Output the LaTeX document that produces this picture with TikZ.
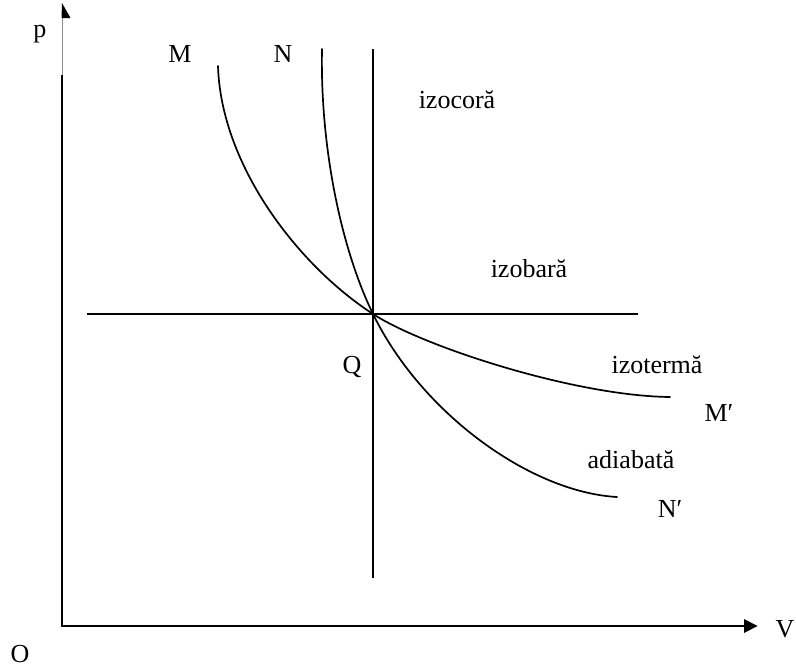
\documentclass[tikz,border=0pt]{standalone}
\usepackage{fontspec}
\setmainfont{Liberation Serif}
\begin{document}
\begin{tikzpicture}[x=1pt,y=-1pt,
  lbl/.style={anchor=base,inner sep=0pt,font=\fontsize{26}{30}\selectfont},
  curve/.style={line width=1.7pt,line cap=round},
  guide/.style={line width=1.6pt},
  axis/.style={line width=2.6pt}]
\useasboundingbox (0,0) rectangle (796,667);
% axes
\coordinate (O) at (62,626);
\coordinate (Ytop) at (62,75);
\coordinate (Ythin) at (62,16);
\coordinate (Xend) at (745,626);
\draw[axis] (Ytop) -- (O) -- (Xend);
\draw[line width=0.9pt,black!45] (Ytop) -- (Ythin);
\fill (62,3) -- (70.5,18) -- (61.5,18) -- cycle;
\fill (744,619) -- (757.5,626) -- (744,633) -- cycle;
% guides
\coordinate (Q) at (373,314);
\coordinate (H1) at (87,314);
\coordinate (H2) at (638,314);
\coordinate (V1) at (373,49);
\coordinate (V2) at (373,578);
\draw[guide] (H1) -- (H2);
\draw[guide] (V1) -- (V2);
% curve end points
\coordinate (Mc) at (218,66);
\coordinate (Mpc) at (670,397);
\coordinate (Nc) at (322,49);
\coordinate (Npc) at (617,497);
% isotherm
\draw[curve] (Mc) .. controls (221,165) and (297.5,265) .. (Q)
                  .. controls (423.3,346.7) and (575,396) .. (Mpc);
% adiabat
\draw[curve] (Nc) .. controls (320,150) and (342.2,251) .. (Q)
                  .. controls (421.4,413) and (530,492) .. (Npc);
% labels
\node[lbl] (p) at (40,37) {p};
\node[lbl] (M) at (180,62) {M};
\node[lbl] (N) at (283,62) {N};
\node[lbl] (izocora) at (457,108) {izocoră};
\node[lbl] (izobara) at (529,277) {izobară};
\node[lbl] (Qlbl) at (352,373) {Q};
\node[lbl] (izoterma) at (657,373) {izotermă};
\node[lbl] (Mp) at (719,421) {M′};
\node[lbl] (adiabata) at (631,468) {adiabată};
\node[lbl] (Np) at (670,517) {N′};
\node[lbl] (Olbl) at (20,662) {O};
\node[lbl] (V) at (785,637) {V};
\end{tikzpicture}
\end{document}
